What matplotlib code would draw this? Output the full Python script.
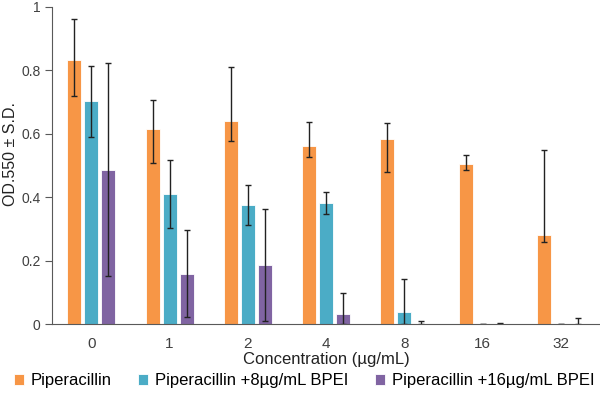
import matplotlib
matplotlib.use('Agg')
import matplotlib.pyplot as plt
import numpy as np

plt.rcParams['font.family'] = ['Liberation Sans', 'DejaVu Sans']

concentrations = ['0', '1', '2', '4', '8', '16', '32']
series_names = ['Piperacillin', 'Piperacillin +8µg/mL BPEI', 'Piperacillin +16µg/mL BPEI']

pip = [0.833, 0.616, 0.640, 0.560, 0.584, 0.504, 0.282]
pip_lo = [0.113, 0.109, 0.062, 0.033, 0.103, 0.018, 0.023]
pip_hi = [0.130, 0.092, 0.172, 0.076, 0.050, 0.028, 0.266]

pip8 = [0.702, 0.411, 0.374, 0.381, 0.038, 0.001, 0.001]
pip8_lo = [0.113, 0.109, 0.062, 0.033, 0.038, 0.0, 0.0]
pip8_hi = [0.113, 0.106, 0.065, 0.034, 0.104, 0.0, 0.0]

pip16 = [0.487, 0.158, 0.186, 0.030, 0.0, 0.0, 0.0]
pip16_lo = [0.335, 0.135, 0.178, 0.030, 0.0, 0.0, 0.0]
pip16_hi = [0.336, 0.140, 0.178, 0.069, 0.010, 0.004, 0.019]

colors = ['#F79646', '#4BACC6', '#8064A2']

fig = plt.figure(figsize=(6, 4), dpi=100)
ax = fig.add_axes([0.087, 0.19, 0.913, 0.7925])

x = np.arange(len(concentrations))
width = 0.178
offsets = [-0.217, 0.0, 0.217]
data = [(pip, pip_lo, pip_hi), (pip8, pip8_lo, pip8_hi), (pip16, pip16_lo, pip16_hi)]

for i, (vals, lo, hi) in enumerate(data):
    ax.bar(x + offsets[i], vals, width, color=colors[i], edgecolor='white',
           linewidth=0.6, label=series_names[i])
    ax.errorbar(x + offsets[i], vals, yerr=[lo, hi], fmt='none', ecolor='#222222',
                elinewidth=1, capsize=2.5, capthick=1)

ax.set_xlim(-0.5, 6.5)
ax.set_ylim(0, 1)
ax.set_yticks([0, 0.2, 0.4, 0.6, 0.8, 1.0])
ax.set_yticklabels(['0', '0.2', '0.4', '0.6', '0.8', '1'])
ax.set_xticks(x)
ax.set_xticklabels(concentrations)

for s in ['top', 'right']:
    ax.spines[s].set_visible(False)
for s in ['left', 'bottom']:
    ax.spines[s].set_color('#595959')
ax.tick_params(axis='y', colors='#595959', labelcolor='#404040', labelsize=10, length=5)
ax.tick_params(axis='x', length=0, labelcolor='#404040', labelsize=11, pad=9)

ax.set_ylabel('OD.550 ± S.D.', fontsize=11.5, color='#222222')
ax.yaxis.set_label_coords(-0.062, 0.535)
ax.set_xlabel('Concentration (µg/mL)', fontsize=12, color='#222222', labelpad=1)

ax.legend(loc='upper center', bbox_to_anchor=(0.46, -0.135), ncol=3, frameon=False,
          fontsize=12, handlelength=0.6, handleheight=0.6, handletextpad=0.4,
          columnspacing=1.6, borderaxespad=0)

fig.savefig('out.png', dpi=100)
